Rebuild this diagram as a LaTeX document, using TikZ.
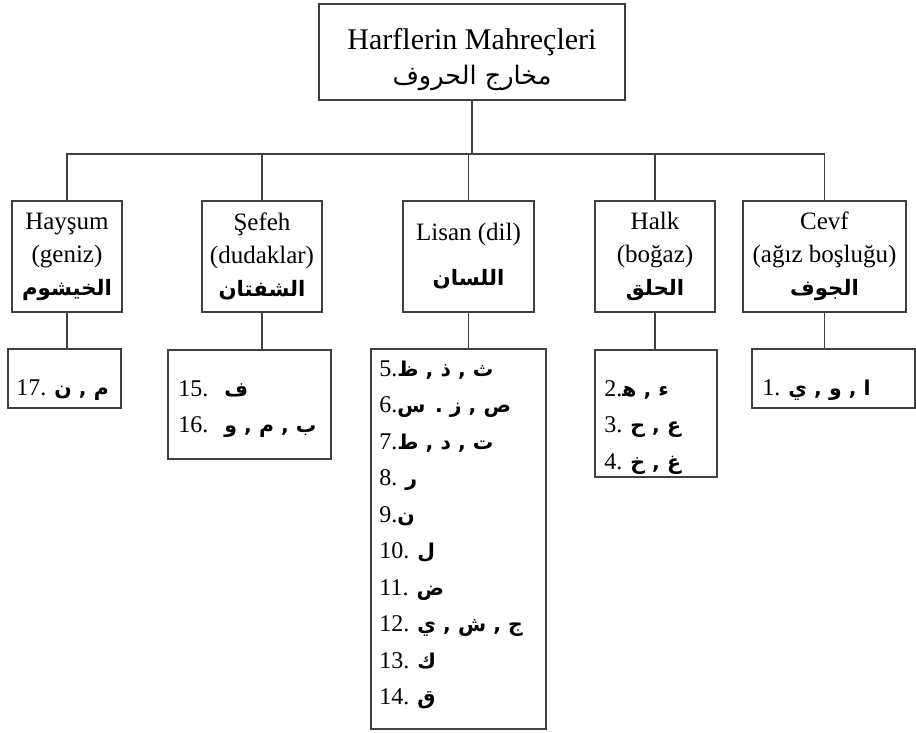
\documentclass[tikz,border=0pt]{standalone}
\usepackage{fontspec}
\setmainfont{Liberation Serif}
\newfontfamily\arabicfont[Script=Arabic,Scale=0.85]{DejaVu Sans}
\TeXXeTstate=1
\usepackage{tikz}
\usetikzlibrary{positioning}

\newcommand{\artext}[1]{{\arabicfont\beginR #1\endR}}

\begin{document}
\begin{tikzpicture}[x=1pt, y=-1pt,
	box/.style={draw=black!75, line width=1.6pt, inner sep=0pt, align=center},
	head/.style={box, minimum height=111pt, font=\fontsize{25}{33}\selectfont},
	list/.style={anchor=north west, inner sep=0pt, align=left, font=\fontsize{24}{36.5}\selectfont},
	link/.style={draw=black!75, line width=1.6pt}]
	\useasboundingbox (0,0) rectangle (916,732);

	\node[box, minimum width=306pt, minimum height=96pt, font=\fontsize{30}{35}\selectfont] (mah) at (472,52)
		{\rule{0pt}{36pt}Harflerin Mahreçleri\\\artext{مخارج الحروف}};

	\node[head, minimum width=110pt] (hay) at (67,256.5) {Hayşum\\(geniz)\\\artext{\bfseries الخيشوم}};
	\node[head, minimum width=120pt] (sef) at (262,256.5) {Şefeh\\(dudaklar)\\\artext{\bfseries الشفتان}};
	\node[head, minimum width=131pt] (lis) at (468.5,256.5) {Lisan (dil)\\[12pt]\artext{\bfseries اللسان}};
	\node[head, minimum width=120pt] (hal) at (655,256.5) {Halk\\(boğaz)\\\artext{\bfseries الحلق}};
	\node[head, minimum width=163pt] (cev) at (824.5,256.5) {Cevf\\(ağız boşluğu)\\\artext{\bfseries الجوف}};

	\node[box, minimum width=113pt, minimum height=59pt] (hayl) at (64.5,378.5) {};
	\node[box, minimum width=163pt, minimum height=109pt] (sefl) at (249.5,404.5) {};
	\node[box, minimum width=175pt, minimum height=380pt] (lisl) at (458.5,539) {};
	\node[box, minimum width=122pt, minimum height=127pt] (hall) at (656,413.5) {};
	\node[box, minimum width=163pt, minimum height=59pt] (cevl) at (833.5,378.5) {};

	\node[list, below right=31pt and 9pt of hayl.north west] (hayt) {17. \artext{\bfseries م , ن}};
	\node[list, below right=31pt and 11pt of sefl.north west] (seft)
		{15.\hspace{16pt}\artext{\bfseries ف}\\16.\hspace{16pt}\artext{\bfseries ب , م , و}};
	\node[list, below right=12pt and 9pt of lisl.north west] (list)
		{5.\artext{\bfseries ث , ذ , ظ}\\6.\artext{\bfseries ص , ز . س}\\7.\artext{\bfseries ت , د , ط}\\
		8. \artext{\bfseries ر}\\9.\artext{\bfseries ن}\\10. \artext{\bfseries ل}\\11. \artext{\bfseries ض}\\
		12. \artext{\bfseries ج , ش , ي}\\13. \artext{\bfseries ك}\\14. \artext{\bfseries ق}};
	\node[list, below right=31pt and 10pt of hall.north west] (halt)
		{2.\artext{\bfseries ء , ه^^^^200d}\\3. \artext{\bfseries ع , ح}\\4. \artext{\bfseries غ , خ}};
	\node[list, below right=31pt and 11pt of cevl.north west] (cevt) {1. \artext{\bfseries ا , و , ي}};

	\coordinate (bus) at (470,154);
	\draw[link] (mah.south) -- (mah.south |- bus);
	\draw[link] (hay.north) -- (hay.north |- bus) -- (cev.north |- bus) -- (cev.north);
	\foreach \n in {sef,lis,hal}
		\draw[link] (\n.north) -- (\n.north |- bus);
	\foreach \n/\m in {hay/hayl,sef/sefl,lis/lisl,hal/hall,cev/cevl}
		\draw[link] (\n.south) -- (\n.south |- \m.north);
\end{tikzpicture}
\end{document}
